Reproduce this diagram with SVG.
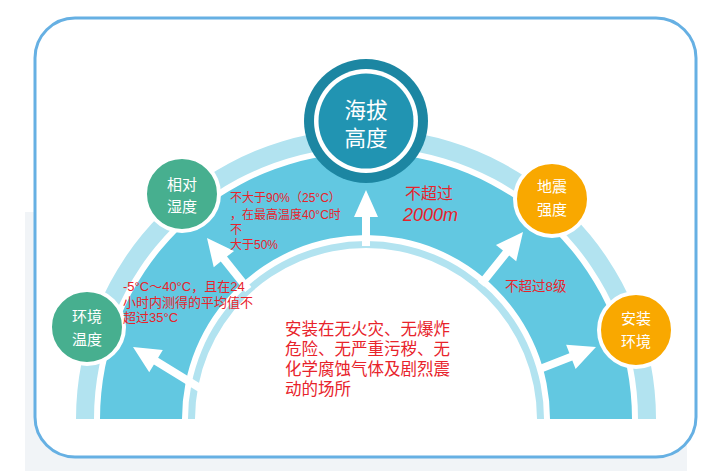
<svg xmlns="http://www.w3.org/2000/svg" width="715" height="471" viewBox="0 0 715 471">
<style>
.lb{fill:#b2e3f0}
.mb{fill:#62c8e1}
.arr{fill:#ffffff}
.nt{font-family:"Noto Sans CJK SC","Noto Sans",sans-serif;fill:#ffffff;text-anchor:middle}
.rt{font-family:"Liberation Sans","Noto Sans CJK SC",sans-serif;fill:#e8232b}
.green{fill:#47af8f;stroke:#ffffff;stroke-width:4}
.orange{fill:#f9a800;stroke:#ffffff;stroke-width:4}
</style>
<rect width="715" height="471" fill="#ffffff"/>
<rect x="25" y="212" width="662" height="259" fill="#f1f4f7"/>
<rect x="35" y="18" width="661" height="439" rx="40" ry="40" fill="#ffffff" stroke="#66b0e3" stroke-width="3"/>
<g id="arch">
<path class="lb" d="M76,419 A290,290 0 0 1 656,419 L638,419 A272,272 0 0 0 94,419 Z"/>
<path class="mb" d="M100,419 A266,266 0 0 1 632,419 L550,419 A184,184 0 0 0 182,419 Z"/>
<path class="lb" d="M188,419 A178,178 0 0 1 544,419 L537,419 A171,171 0 0 0 195,419 Z"/>
</g>
<g id="connectors">
<path class="arr" transform="translate(133,347) rotate(-58.5)" d="M0,0 L13,27 L4,27 L4,80 L-4,80 L-4,27 L-13,27 Z"/>
<path class="arr" transform="translate(207,238) rotate(-38.7)" d="M0,0 L13,27 L4,27 L4,66 L-4,66 L-4,27 L-13,27 Z"/>
<path class="arr" transform="translate(366,190)" d="M0,0 L12,27 L4,27 L4,56 L-4,56 L-4,27 L-12,27 Z"/>
<path class="arr" transform="translate(523,232) rotate(38.8)" d="M0,0 L13,27 L4,27 L4,67 L-4,67 L-4,27 L-13,27 Z"/>
<path class="arr" transform="translate(596,347) rotate(68.6)" d="M0,0 L13,27 L4,27 L4,62 L-4,62 L-4,27 L-13,27 Z"/>
</g>
<g id="node-haiba">
<circle cx="366" cy="121" r="62" fill="#1c86a2"/>
<circle cx="366" cy="121" r="52" fill="#ffffff"/>
<circle cx="366" cy="121" r="47.5" fill="#2194b2"/>
<text class="nt" x="366" y="118" font-size="21.5">海拔</text>
<text class="nt" x="366" y="146" font-size="21.5">高度</text>
</g>
<g id="node-xiangdui">
<circle class="green" cx="182" cy="194" r="37"/>
<text class="nt" x="182" y="190" font-size="15">相对</text>
<text class="nt" x="182" y="212" font-size="15">湿度</text>
</g>
<g id="node-huanjing">
<circle class="green" cx="87" cy="327" r="37"/>
<text class="nt" x="87" y="322" font-size="15">环境</text>
<text class="nt" x="87" y="345" font-size="15">温度</text>
</g>
<g id="node-dizhen">
<circle class="orange" cx="552" cy="199" r="37"/>
<text class="nt" x="552" y="192" font-size="15">地震</text>
<text class="nt" x="552" y="215" font-size="15">强度</text>
</g>
<g id="node-anzhuang">
<circle class="orange" cx="636" cy="330" r="37"/>
<text class="nt" x="636" y="324" font-size="15">安装</text>
<text class="nt" x="636" y="347" font-size="15">环境</text>
</g>
<g id="labels">
<text class="rt" font-size="12"><tspan x="230" y="202">不大于90%（25°C）</tspan><tspan x="230" y="219">，在最高温度40°C时</tspan><tspan x="230" y="234">不</tspan><tspan x="230" y="249">大于50%</tspan></text>
<text class="rt" font-size="13"><tspan x="123" y="291">-5°C～40°C，且在24</tspan><tspan x="123" y="307">小时内测得的平均值不</tspan><tspan x="123" y="322">超过35°C</tspan></text>
<text class="rt" font-size="16" fill="#d9282e"><tspan x="405" y="199">不超过</tspan></text>
<text class="rt" font-size="18" font-style="italic"><tspan x="403" y="221">2000m</tspan></text>
<text class="rt" font-size="13.5"><tspan x="505" y="291">不超过8级</tspan></text>
<text class="rt" font-size="16.5"><tspan x="285" y="335">安装在无火灾、无爆炸</tspan><tspan x="285" y="355">危险、无严重污秽、无</tspan><tspan x="285" y="375">化学腐蚀气体及剧烈震</tspan><tspan x="285" y="395">动的场所</tspan></text>
</g>
</svg>
